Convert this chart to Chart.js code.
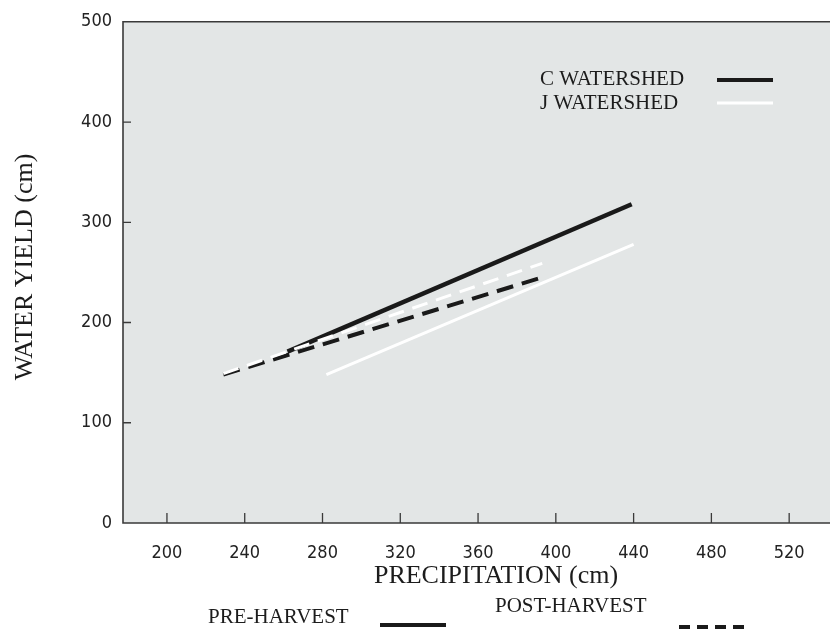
<!DOCTYPE html>
<html>
<head>
<meta charset="utf-8">
<script src="https://cdn.jsdelivr.net/npm/chart.js@4.4.1/dist/chart.umd.min.js"></script>
<style>
    html, body { margin: 0; padding: 0; background: #ffffff; }
    #wrap { width: 830px; height: 632px; }
</style>
</head>
<body>
<div id="wrap"><canvas id="myChart" width="830" height="632"></canvas></div>
<script>
// values (precipitation cm -> water yield cm)
var cPreX = [262, 439];
var cPreY = [171, 318];
var jPreX = [282, 440];
var jPreY = [148, 278];
var cPostX = [229, 393];
var cPostY = [148, 245];
var jPostX = [229, 393];
var jPostY = [149, 259];

var xTicks = [200, 240, 280, 320, 360, 400, 440, 480, 520];
var yTicks = [0, 100, 200, 300, 400, 500];

var serif = "'Liberation Serif', 'Times New Roman', serif";
var narrow = "'DejaVu Sans Condensed', 'Arial Narrow', sans-serif";

function toPoints(xs, ys) {
    var pts = [];
    for (var i = 0; i < xs.length; i++) {
        pts.push({ x: xs[i], y: ys[i] });
    }
    return pts;
}

function lineSet(label, xs, ys, color, width, dash) {
    return {
        label: label,
        data: toPoints(xs, ys),
        showLine: true,
        borderColor: color,
        borderWidth: width,
        borderDash: dash,
        borderCapStyle: 'butt',
        pointRadius: 0,
        fill: false
    };
}

// plot area fill, frame and inward tick marks
var framePlugin = {
    id: 'frame',
    beforeDatasetsDraw: function (chart) {
        var ctx = chart.ctx;
        var a = chart.chartArea;
        ctx.save();
        ctx.fillStyle = '#e3e6e6';
        ctx.fillRect(a.left, a.top, a.right - a.left, a.bottom - a.top);

        ctx.strokeStyle = '#3a3a3a';
        ctx.lineWidth = 1.6;
        ctx.beginPath();
        ctx.moveTo(a.right, a.top);
        ctx.lineTo(a.left, a.top);
        ctx.lineTo(a.left, a.bottom);
        ctx.lineTo(a.right, a.bottom);
        ctx.stroke();

        ctx.lineWidth = 1.3;
        ctx.beginPath();
        xTicks.forEach(function (v) {
            var px = chart.scales.x.getPixelForValue(v);
            ctx.moveTo(px, a.bottom);
            ctx.lineTo(px, a.bottom - 10);
        });
        yTicks.forEach(function (v) {
            if (v == 0 || v == 500) return;
            var py = chart.scales.y.getPixelForValue(v);
            ctx.moveTo(a.left, py);
            ctx.lineTo(a.left + 8, py);
        });
        ctx.stroke();
        ctx.restore();
    },
    afterDraw: function (chart) {
        var ctx = chart.ctx;
        ctx.save();
        ctx.fillStyle = '#1c1c1c';
        ctx.textBaseline = 'middle';

        // axis titles
        ctx.font = '26px ' + serif;
        ctx.textAlign = 'center';
        ctx.fillText('PRECIPITATION (cm)', 496, 576);
        ctx.save();
        ctx.translate(25, 267);
        ctx.rotate(-Math.PI / 2);
        ctx.fillText('WATER YIELD (cm)', 0, 0);
        ctx.restore();

        // watershed legend inside the plot
        ctx.font = '21px ' + serif;
        ctx.textAlign = 'left';
        ctx.fillText('C WATERSHED', 540, 79);
        ctx.fillText('J WATERSHED', 540, 103);
        ctx.lineCap = 'butt';
        ctx.strokeStyle = '#1a1a1a';
        ctx.lineWidth = 4;
        ctx.beginPath();
        ctx.moveTo(717, 80);
        ctx.lineTo(773, 80);
        ctx.stroke();
        ctx.strokeStyle = '#ffffff';
        ctx.lineWidth = 3;
        ctx.beginPath();
        ctx.moveTo(717, 103);
        ctx.lineTo(773, 103);
        ctx.stroke();

        // harvest legend under the axis
        ctx.fillText('PRE-HARVEST', 208, 617);
        ctx.fillText('POST-HARVEST', 495, 606);
        ctx.strokeStyle = '#1a1a1a';
        ctx.lineWidth = 4;
        ctx.beginPath();
        ctx.moveTo(380, 625);
        ctx.lineTo(446, 625);
        ctx.stroke();
        ctx.setLineDash([11, 7]);
        ctx.beginPath();
        ctx.moveTo(679, 627);
        ctx.lineTo(748, 627);
        ctx.stroke();
        ctx.restore();
    }
};

var myChart = new Chart(document.getElementById('myChart'), {
    type: 'scatter',
    data: {
        datasets: [
            lineSet('J post', jPostX, jPostY, '#ffffff', 3, [16, 9]),
            lineSet('J pre', jPreX, jPreY, '#ffffff', 3, []),
            lineSet('C post', cPostX, cPostY, '#1a1a1a', 4, [17, 9]),
            lineSet('C pre', cPreX, cPreY, '#1a1a1a', 4.5, [])
        ]
    },
    options: {
        responsive: false,
        animation: false,
        layout: { padding: { top: 11, right: 0, left: 0, bottom: 0 } },
        plugins: {
            legend: { display: false },
            tooltip: { enabled: false }
        },
        scales: {
            x: {
                type: 'linear',
                min: 177.4,
                max: 541,
                afterBuildTicks: function (scale) {
                    scale.ticks = xTicks.map(function (v) { return { value: v }; });
                },
                afterFit: function (scale) { scale.height = 109; },
                grid: { display: false, drawTicks: false },
                border: { display: false },
                ticks: {
                    padding: 20,
                    maxRotation: 0,
                    autoSkip: false,
                    color: '#222222',
                    font: { family: narrow, size: 18 }
                }
            },
            y: {
                type: 'linear',
                min: 0,
                max: 500,
                afterBuildTicks: function (scale) {
                    scale.ticks = yTicks.map(function (v) { return { value: v }; });
                },
                afterFit: function (scale) { scale.width = 123; },
                grid: { display: false, drawTicks: false },
                border: { display: false },
                ticks: {
                    padding: 11,
                    color: '#222222',
                    font: { family: narrow, size: 18 }
                }
            }
        }
    },
    plugins: [framePlugin]
});
</script>
</body>
</html>
